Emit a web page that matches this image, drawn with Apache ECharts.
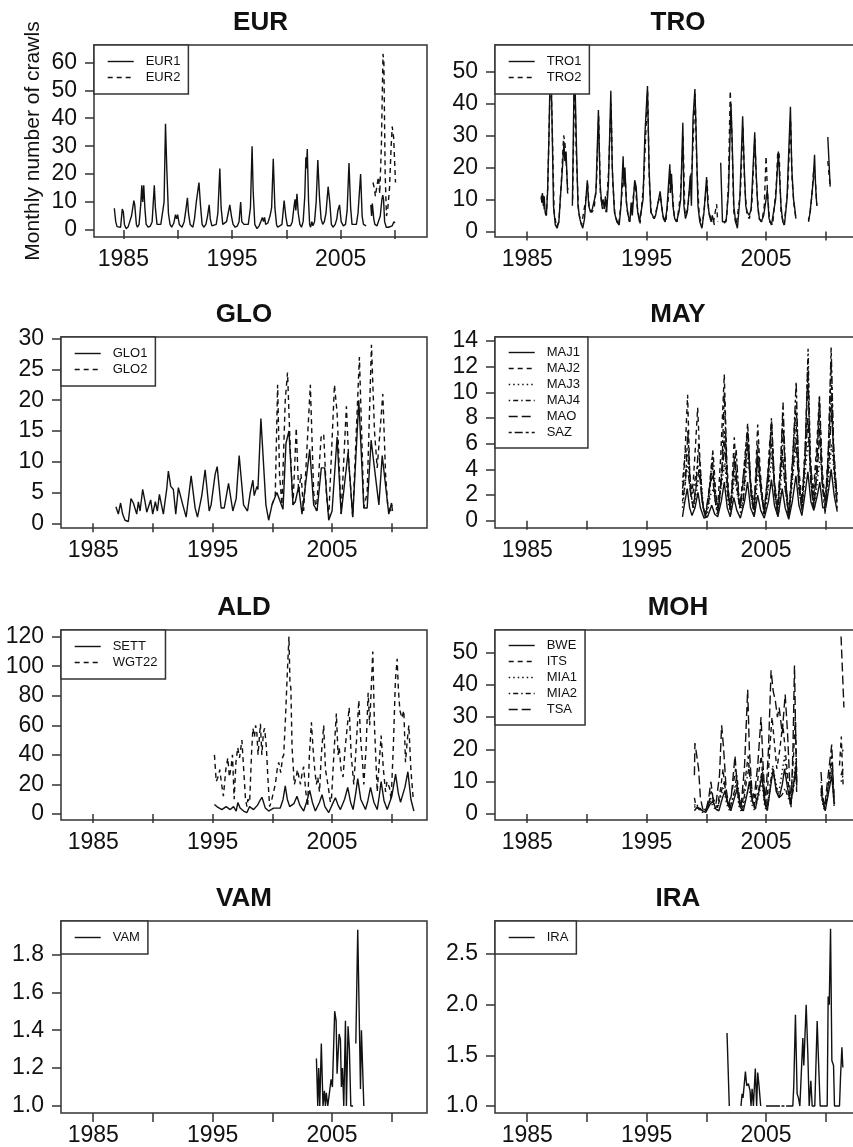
<!DOCTYPE html>
<html>
<head>
<meta charset="utf-8">
<script src="https://cdn.jsdelivr.net/npm/echarts@6/dist/echarts.min.js"></script>
<style>
html,body{margin:0;padding:0;background:#ffffff;}
#chart{width:853px;height:1147px;}
</style>
</head>
<body>
<div id="chart"></div>
<script>
// ---------------- DATA (decimal year, monthly number of crawls) ----------------
const xTickYears = [1985, 1990, 1995, 2000, 2005, 2010];
const xLabelYears = [1985, 1995, 2005];

const EUR_yTicks = [0, 10, 20, 30, 40, 50, 60];
const TRO_yTicks = [0, 10, 20, 30, 40, 50];
const GLO_yTicks = [0, 5, 10, 15, 20, 25, 30];
const MAY_yTicks = [0, 2, 4, 6, 8, 10, 12, 14];
const ALD_yTicks = [0, 20, 40, 60, 80, 100, 120];
const MOH_yTicks = [0, 10, 20, 30, 40, 50];
const VAM_yTicks = [1.0, 1.2, 1.4, 1.6, 1.8];
const IRA_yTicks = [1.0, 1.5, 2.0, 2.5];

const EUR1 = [[1984.17,7.8],[1984.3,3],[1984.42,1.2],[1984.6,1.5],[1984.75,1],[1984.9,7.5],[1985.0,6.5],[1985.1,2],[1985.25,0.5],[1985.45,1.2],[1985.6,1.5],[1985.75,5],[1985.97,10.5],[1986.05,9],[1986.2,2],[1986.3,1],[1986.45,2],[1986.6,9],[1986.7,16],[1986.78,10],[1986.88,16],[1986.98,8],[1987.1,2],[1987.3,1],[1987.5,1.5],[1987.65,3],[1987.85,16],[1987.95,8],[1988.1,2],[1988.25,1.5],[1988.45,2],[1988.6,2.5],[1988.75,10],[1988.88,38],[1989.0,22],[1989.15,6],[1989.3,2],[1989.45,1],[1989.65,2.5],[1989.8,5.5],[1989.9,4],[1990.0,5.5],[1990.15,2],[1990.4,1],[1990.6,3],[1990.75,7],[1990.9,11.5],[1991.0,6],[1991.15,2],[1991.4,1],[1991.55,4],[1991.7,9.5],[1991.8,10],[1991.96,17],[1992.1,9],[1992.25,2],[1992.4,1],[1992.6,2],[1992.75,5],[1992.9,9],[1993.0,4],[1993.15,1.5],[1993.3,1],[1993.55,2],[1993.7,6],[1993.88,22],[1994.0,8],[1994.15,2],[1994.3,1.5],[1994.5,3],[1994.65,6],[1994.8,9],[1994.95,5],[1995.1,2],[1995.3,1],[1995.5,1.5],[1995.65,3],[1995.8,10],[1995.9,3],[1996.1,2],[1996.25,1.5],[1996.5,2],[1996.7,8],[1996.85,30],[1996.95,14],[1997.1,2],[1997.3,0.5],[1997.5,1.5],[1997.65,3],[1997.8,4.5],[1997.9,3],[1998.0,4.5],[1998.1,2],[1998.3,2.5],[1998.5,5],[1998.65,8],[1998.8,25.5],[1998.95,8],[1999.1,2],[1999.2,1],[1999.4,1.5],[1999.6,2],[1999.8,10.5],[1999.95,5],[2000.1,1.5],[2000.2,1],[2000.4,1.5],[2000.55,3],[2000.7,8],[2000.8,11],[2000.88,7],[2000.98,13],[2001.1,6],[2001.25,2],[2001.4,1],[2001.55,3],[2001.7,12],[2001.8,26],[2001.86,22],[2001.93,29],[2002.05,10],[2002.15,2],[2002.24,1],[2002.35,3],[2002.45,1.5],[2002.6,3],[2002.75,10],[2002.9,25],[2003.05,12],[2003.2,4],[2003.35,2],[2003.5,3],[2003.65,6],[2003.85,15.5],[2004.0,10],[2004.15,2],[2004.3,1],[2004.5,2],[2004.65,4],[2004.75,7],[2004.9,9],[2005.05,3],[2005.25,1.5],[2005.45,2],[2005.6,7],[2005.77,24],[2005.92,8],[2006.05,2],[2006.2,1.5],[2006.45,2],[2006.6,6],[2006.84,20],[2006.98,5],[2007.1,2],[2007.24,1.5],[2007.35,1.5],[2007.4,null],[2007.78,9],[2007.85,5],[2007.92,9.5],[2008.05,4],[2008.15,2],[2008.35,1.5],[2008.5,2],[2008.65,5],[2008.8,11],[2008.88,12.5],[2008.95,11],[2009.05,3],[2009.2,1],[2009.4,1],[2009.55,0.8],[2009.75,1.5],[2009.9,3],[2010.0,2.5]];
const EUR2 = [[2007.98,17],[2008.1,15],[2008.2,12],[2008.35,16],[2008.48,19],[2008.6,13],[2008.75,30],[2008.9,63],[2008.98,60],[2009.1,20],[2009.22,5],[2009.35,8],[2009.5,15],[2009.65,30],[2009.75,37],[2009.88,33],[2010.05,17]];

const TRO1 = [[1986.17,11],[1986.22,9],[1986.27,12],[1986.35,8],[1986.42,11],[1986.5,6],[1986.6,5],[1986.7,12],[1986.82,30],[1986.95,56],[1987.05,40],[1987.2,8],[1987.35,2],[1987.5,1],[1987.65,3],[1987.8,12],[1987.95,20],[1988.08,28],[1988.15,22],[1988.25,25],[1988.38,12],[1988.44,12],[1988.5,null],[1988.78,8],[1988.95,55],[1989.1,30],[1989.25,8],[1989.4,4],[1989.55,2],[1989.65,1],[1989.8,4],[1989.95,12],[1990.03,16],[1990.15,8],[1990.3,6],[1990.45,7],[1990.6,6.5],[1990.75,12],[1990.96,38],[1991.1,15],[1991.25,8],[1991.35,10],[1991.45,7],[1991.55,11],[1991.65,6],[1991.8,15],[1992.0,44],[1992.12,20],[1992.3,6],[1992.5,3],[1992.7,2],[1992.85,8],[1993.03,23.5],[1993.1,14],[1993.18,20],[1993.3,9],[1993.45,5],[1993.6,3],[1993.7,9],[1993.8,5],[1994.0,16],[1994.12,14],[1994.25,6],[1994.4,3],[1994.5,2.5],[1994.7,10],[1994.85,30],[1995.07,45.5],[1995.2,20],[1995.35,6],[1995.5,5],[1995.6,4],[1995.75,5],[1995.9,8],[1996.13,12.5],[1996.25,8],[1996.4,4],[1996.55,3],[1996.7,7],[1996.94,21],[1997.0,12],[1997.08,18],[1997.2,8],[1997.35,4],[1997.5,3],[1997.7,6],[1997.85,10],[1998.03,34],[1998.12,8],[1998.25,4],[1998.4,6],[1998.55,12],[1998.65,17.5],[1998.75,8],[1998.88,35],[1999.04,44.5],[1999.15,30],[1999.3,8],[1999.45,3],[1999.63,1],[1999.8,6],[2000.02,17],[2000.12,9],[2000.25,5],[2000.4,3],[2000.5,5],[2000.67,2],[2000.7,null],[2001.2,21.5],[2001.35,3],[2001.5,2.5],[2001.65,3],[2001.85,12],[2002.06,40],[2002.15,30],[2002.3,8],[2002.45,3],[2002.6,1],[2002.8,10],[2003.04,36],[2003.15,22],[2003.3,8],[2003.42,6],[2003.6,5],[2003.75,7],[2004.05,31],[2004.15,20],[2004.3,8],[2004.44,4],[2004.6,3],[2004.8,5],[2005.0,10],[2005.1,13],[2005.25,4],[2005.45,2],[2005.6,2],[2005.8,10],[2006.03,25],[2006.12,25],[2006.25,8],[2006.4,3],[2006.54,2],[2006.75,10],[2007.04,39],[2007.15,20],[2007.3,10],[2007.38,8],[2007.5,4],[2007.55,null],[2008.55,3.5],[2008.65,5],[2008.8,10],[2008.95,16],[2009.06,24],[2009.15,14],[2009.25,8],[2009.3,null],[2010.17,29.5],[2010.37,14]];
const TRO2 = [[1986.17,10],[1986.3,12],[1986.45,6],[1986.6,5],[1986.72,14],[1986.85,35],[1986.96,52],[1987.08,35],[1987.25,6],[1987.45,1.5],[1987.65,3],[1987.85,15],[1988.05,30],[1988.15,28],[1988.28,20],[1988.4,13],[1988.45,null],[1988.8,10],[1988.97,50],[1989.1,25],[1989.3,6],[1989.55,2],[1989.7,1.5],[1989.9,10],[1990.05,15],[1990.2,7],[1990.4,6],[1990.6,7],[1990.8,15],[1990.98,36],[1991.12,12],[1991.3,7],[1991.45,9],[1991.6,6],[1991.8,18],[1992.02,40],[1992.15,16],[1992.35,5],[1992.65,2],[1992.9,10],[1993.05,20],[1993.2,17],[1993.35,7],[1993.55,3],[1993.75,7],[1994.02,15],[1994.2,8],[1994.45,2.5],[1994.75,15],[1995.08,44],[1995.22,16],[1995.4,5],[1995.65,4],[1995.95,9],[1996.15,11],[1996.35,5],[1996.6,3],[1996.8,10],[1996.97,19],[1997.1,15],[1997.3,5],[1997.55,3],[1997.85,12],[1998.05,30],[1998.2,5],[1998.45,7],[1998.65,16],[1998.8,20],[1999.06,43],[1999.2,20],[1999.4,5],[1999.65,1.5],[1999.85,8],[2000.05,16],[2000.2,6],[2000.4,4],[2000.6,3],[2000.86,8.5],[2000.95,3],[2001.0,null],[2001.5,2.5],[2001.7,4],[2001.85,15],[2002.0,44],[2002.12,32],[2002.3,6],[2002.5,2],[2002.65,1.5],[2002.85,12],[2003.06,33],[2003.2,15],[2003.4,5],[2003.6,4],[2003.8,8],[2004.06,29],[2004.2,15],[2004.4,4],[2004.65,3],[2004.85,8],[2005.0,23.5],[2005.12,12],[2005.3,3],[2005.55,2],[2005.85,14],[2005.98,25],[2006.1,24],[2006.25,6],[2006.5,2],[2006.8,12],[2007.05,35],[2007.18,16],[2007.35,8],[2007.5,4],[2007.55,null],[2008.55,3],[2008.7,6],[2008.85,12],[2009.0,20],[2009.1,18],[2009.25,8],[2009.3,null],[2010.17,22],[2010.37,14]];

const GLO1 = [[1986.9,2.7],[1987.1,1.5],[1987.29,3.3],[1987.46,1.5],[1987.66,0.5],[1987.94,0.3],[1988.16,4],[1988.36,3.3],[1988.64,1.5],[1988.78,3.5],[1988.92,2],[1989.14,5.5],[1989.34,3.5],[1989.48,1.8],[1989.81,3.8],[1989.98,1.5],[1990.2,3.5],[1990.37,2],[1990.54,4.7],[1990.87,1.5],[1991.15,5.5],[1991.29,8.5],[1991.49,6],[1991.71,5.5],[1991.91,1.5],[1992.13,5.8],[1992.5,3],[1992.78,1],[1993.2,7.7],[1993.53,2.5],[1993.73,1],[1994.09,4.5],[1994.37,8.7],[1994.71,2],[1994.87,3],[1995.21,8],[1995.38,9.2],[1995.71,2.5],[1995.97,2.5],[1996.33,6.5],[1996.69,2],[1996.97,4],[1997.22,11],[1997.59,3],[1997.92,2],[1998.15,5],[1998.37,7],[1998.48,4.5],[1998.71,6],[1998.79,5.5],[1999.04,17],[1999.46,3],[1999.69,0.5],[1999.97,3],[2000.38,5],[2000.89,2.3],[2001.14,13],[2001.39,15],[2001.73,3],[2001.92,3.5],[2002.2,6],[2002.48,1.5],[2003.13,12],[2003.46,3],[2003.74,2],[2004.1,9],[2004.38,9],[2004.72,0.5],[2005.0,2],[2005.42,14],[2005.76,1.5],[2006.34,11.5],[2006.73,1],[2007.24,20],[2007.66,2.5],[2007.94,2.5],[2008.27,13.5],[2008.92,3],[2009.2,11],[2009.75,1.5],[2009.98,3.3],[2010.06,2]];
const GLO2 = [[1999.97,3],[2000.24,4.5],[2000.44,22.5],[2000.6,8],[2000.8,3],[2001.08,20],[2001.27,24.5],[2001.5,12],[2001.73,3],[2002.0,15.5],[2002.2,5],[2002.4,8],[2002.62,2],[2003.18,22.5],[2003.46,5],[2003.69,2],[2004.08,14],[2004.3,14.5],[2004.52,5],[2004.72,1],[2005.2,22.5],[2005.42,18],[2005.76,1.5],[2006.2,19],[2006.4,10],[2006.73,1],[2007.29,27],[2007.66,2.5],[2007.94,5],[2008.3,29],[2008.55,15],[2008.78,9],[2009.25,21],[2009.48,8],[2009.66,3],[2009.9,2],[2010.06,3]];

const MAJ1 = [[1998.0,0.3],[1998.2,1.5],[1998.4,2.5],[1998.6,1.0],[1998.8,0.4],[1999.05,1],[1999.3,2.2],[1999.5,1],[1999.8,0.2],[2000.1,0.3],[2000.45,1.2],[2000.7,0.5],[2000.95,0.3],[2001.25,1.5],[2001.5,3],[2001.75,1],[2002.0,0.3],[2002.3,1.8],[2002.55,0.8],[2002.85,0.2],[2003.2,1.5],[2003.45,3],[2003.7,1],[2004.0,0.3],[2004.3,2],[2004.55,0.8],[2004.85,0.2],[2005.2,1.5],[2005.45,3.2],[2005.7,1.2],[2006.0,0.3],[2006.35,2.5],[2006.6,1],[2006.9,0.1],[2007.2,1.5],[2007.5,3.5],[2007.75,1.2],[2008.0,0.4],[2008.25,2],[2008.5,3.8],[2008.75,1.5],[2009.0,0.8],[2009.3,2],[2009.5,3],[2009.75,1],[2010.0,1],[2010.25,2.5],[2010.45,4],[2010.7,2],[2010.96,0.7]];
const MAJ2 = [[1998.0,2],[1998.2,5],[1998.43,9.8],[1998.6,4],[1998.75,2],[1998.9,3],[1999.1,6],[1999.27,8.8],[1999.45,5],[1999.65,1.5],[1999.85,0.5],[2000.1,1],[2000.3,3],[2000.5,5],[2000.7,2.5],[2000.95,1],[2001.2,5],[2001.5,11.4],[2001.7,5],[2001.9,1.5],[2002.1,2],[2002.34,6.5],[2002.55,3],[2002.8,1],[2003.1,3.5],[2003.46,7.6],[2003.7,3],[2003.95,1],[2004.1,3],[2004.3,7.5],[2004.5,4],[2004.8,0.5],[2005.1,3],[2005.3,6],[2005.47,7.5],[2005.7,3],[2005.95,1],[2006.2,4],[2006.4,8.0],[2006.6,4],[2006.85,0.3],[2007.1,3],[2007.35,7],[2007.52,9],[2007.75,4],[2008.0,1.5],[2008.25,5],[2008.5,11],[2008.7,5],[2008.95,2],[2009.25,6],[2009.47,9.7],[2009.7,4],[2009.95,1.5],[2010.2,5],[2010.45,12],[2010.65,5],[2010.85,2],[2010.96,1.5]];
const MAJ3 = [[1998.0,1],[1998.3,3.5],[1998.5,4.5],[1998.7,2],[1998.95,1],[1999.3,3],[1999.5,4],[1999.75,1],[2000.0,0.2],[2000.35,2],[2000.6,2.5],[2000.9,0.5],[2001.3,3],[2001.55,4.5],[2001.8,1.5],[2002.05,0.5],[2002.35,3.5],[2002.6,2],[2002.9,0.5],[2003.25,3],[2003.5,5],[2003.8,1.5],[2004.05,0.5],[2004.35,4],[2004.6,2],[2004.9,0.5],[2005.25,3],[2005.5,5],[2005.8,1.5],[2006.05,0.5],[2006.4,5],[2006.65,2],[2006.95,0.5],[2007.3,4],[2007.55,6],[2007.8,2],[2008.05,1],[2008.3,4],[2008.55,6.5],[2008.8,2.5],[2009.05,1],[2009.35,3.5],[2009.55,5],[2009.8,2],[2010.05,1.5],[2010.3,4],[2010.5,6],[2010.75,3],[2010.96,1.5]];
const MAJ4 = [[1998.0,3],[1998.25,5.5],[1998.45,5],[1998.65,3],[1998.85,2],[1999.1,3.5],[1999.3,4.3],[1999.5,3],[1999.75,1],[2000.0,0.5],[2000.3,3],[2000.55,5.5],[2000.8,2],[2001.0,1],[2001.3,4],[2001.52,7],[2001.75,3],[2002.0,1],[2002.3,4],[2002.5,3],[2002.8,1],[2003.15,4],[2003.45,7.0],[2003.7,3],[2004.0,1],[2004.3,5],[2004.55,3],[2004.85,0.8],[2005.2,4],[2005.45,7.8],[2005.7,3],[2006.0,1],[2006.3,5],[2006.45,7],[2006.7,2.5],[2006.95,0.5],[2007.25,5],[2007.5,8],[2007.75,3],[2008.0,1],[2008.3,6],[2008.52,13.4],[2008.7,5],[2008.95,1.5],[2009.25,5],[2009.45,8],[2009.7,3],[2009.95,1],[2010.2,5],[2010.45,10],[2010.7,4],[2010.96,2]];
const MAO = [[1998.0,2.5],[1998.3,4],[1998.5,3.5],[1998.7,2],[1998.9,1],[1999.2,3],[1999.4,4],[1999.65,1.5],[1999.9,0.3],[2000.25,2.5],[2000.5,3.5],[2000.75,1.5],[2001.0,0.8],[2001.35,4],[2001.55,6],[2001.8,2],[2002.05,0.8],[2002.35,5],[2002.55,3],[2002.85,1],[2003.2,4],[2003.45,6],[2003.75,2],[2004.0,0.8],[2004.3,5],[2004.55,2.5],[2004.85,0.7],[2005.2,4],[2005.45,6],[2005.75,2],[2006.0,0.8],[2006.35,5.5],[2006.6,2.5],[2006.9,0.5],[2007.25,4],[2007.5,6.5],[2007.75,2.5],[2008.0,1],[2008.3,5],[2008.5,8],[2008.75,3],[2009.0,1],[2009.3,4],[2009.5,7],[2009.75,2.5],[2010.0,1.5],[2010.3,5],[2010.5,9],[2010.75,3.5],[2010.96,2]];
const SAZ = [[1998.0,1.5],[1998.25,3],[1998.45,7],[1998.65,2.5],[1998.9,1],[1999.15,3],[1999.35,6],[1999.6,2],[1999.85,0.5],[2000.2,1.5],[2000.5,4.5],[2000.75,1.5],[2001.0,0.5],[2001.3,4],[2001.5,10],[2001.75,3],[2002.0,0.8],[2002.3,4],[2002.5,5.5],[2002.75,1.5],[2003.05,1],[2003.35,5],[2003.5,6.8],[2003.75,2],[2004.0,0.5],[2004.3,6],[2004.55,2.5],[2004.85,0.5],[2005.2,3],[2005.45,8.0],[2005.7,2.5],[2005.95,0.5],[2006.25,5],[2006.42,9.2],[2006.65,3],[2006.9,0.2],[2007.25,5],[2007.52,10.8],[2007.75,3],[2008.0,0.8],[2008.3,6],[2008.5,12.5],[2008.7,4],[2008.95,1],[2009.25,4],[2009.47,9.7],[2009.7,3],[2009.95,0.5],[2010.2,5],[2010.45,13.5],[2010.65,6],[2010.85,3],[2010.96,0.7]];

const SETT = [[1995.15,6.5],[1995.35,5],[1995.77,3],[1996.13,5],[1996.47,3],[1996.75,5],[1996.97,2],[1997.11,7.7],[1997.3,4],[1997.59,2],[1997.87,1],[1998.09,5],[1998.43,3],[1998.76,6],[1998.95,9],[1999.13,11.3],[1999.41,4],[1999.69,2],[2000.1,4],[2000.66,4],[2000.9,10],[2001.08,19],[2001.25,10],[2001.45,5],[2001.8,7],[2002.06,12],[2002.3,6],[2002.62,2],[2002.9,9],[2003.13,16],[2003.35,8],[2003.6,2],[2003.95,8],[2004.16,13],[2004.4,5],[2004.72,1],[2005.05,7],[2005.28,11],[2005.5,6],[2005.7,3],[2006.05,10],[2006.31,18],[2006.55,8],[2006.76,3],[2006.98,14],[2007.15,24],[2007.4,10],[2007.8,3],[2008.0,9],[2008.22,18],[2008.5,8],[2008.78,3],[2008.95,12],[2009.11,22],[2009.35,9],[2009.62,3],[2010.0,12],[2010.32,27],[2010.55,14],[2010.73,8],[2011.1,18],[2011.35,28.6],[2011.6,10],[2011.85,2]];
const WGT22 = [[1995.15,40],[1995.3,22],[1995.45,25],[1995.6,30],[1995.75,20],[1995.9,12],[1996.1,30],[1996.27,38],[1996.4,25],[1996.55,32],[1996.66,40],[1996.8,10],[1996.95,35],[1997.1,45],[1997.25,38],[1997.45,50],[1997.6,30],[1997.75,10],[1997.87,5],[1997.95,10],[1998.1,8],[1998.25,40],[1998.37,58],[1998.5,52],[1998.6,60],[1998.7,55],[1998.8,40],[1999.0,61],[1999.12,40],[1999.25,55],[1999.35,58],[1999.5,45],[1999.62,25],[1999.77,5],[1999.9,8],[2000.1,15],[2000.25,20],[2000.4,30],[2000.53,35],[2000.7,28],[2000.85,38],[2000.95,40],[2001.1,65],[2001.25,95],[2001.39,120],[2001.47,90],[2001.55,85],[2001.65,45],[2001.84,20],[2002.0,25],[2002.1,30],[2002.2,30],[2002.35,20],[2002.5,28],[2002.62,32],[2002.8,15],[2002.96,5],[2003.1,40],[2003.27,62],[2003.4,45],[2003.55,30],[2003.69,20],[2003.8,25],[2003.95,15],[2004.1,40],[2004.3,60],[2004.45,30],[2004.65,20],[2004.86,8],[2004.95,10],[2005.15,40],[2005.36,68],[2005.5,40],[2005.6,45],[2005.75,30],[2005.92,25],[2006.1,45],[2006.26,58],[2006.43,72],[2006.6,40],[2006.82,20],[2007.05,50],[2007.24,77],[2007.4,50],[2007.55,35],[2007.66,20],[2007.85,45],[2008.02,82],[2008.15,60],[2008.41,110],[2008.55,60],[2008.78,15],[2008.95,35],[2009.11,53],[2009.3,30],[2009.48,15],[2009.6,22],[2009.8,18],[2009.95,10],[2010.15,50],[2010.3,90],[2010.45,105],[2010.55,85],[2010.68,70],[2010.85,65],[2011.01,70],[2011.15,35],[2011.3,50],[2011.43,60],[2011.6,30],[2011.8,10]];

const BWE = [[1999.0,1],[1999.2,2],[1999.45,1.5],[1999.7,1],[1999.95,0.5],[2000.3,3],[2000.55,4],[2000.8,1.5],[2001.05,1],[2001.35,5],[2001.55,7],[2001.8,3],[2002.05,1],[2002.35,5],[2002.6,8],[2002.85,2],[2003.1,1],[2003.4,6],[2003.6,10],[2003.85,4],[2004.1,1.5],[2004.4,7],[2004.65,12],[2004.9,3],[2005.1,1],[2005.4,9],[2005.6,14],[2005.85,7],[2006.1,5],[2006.35,9],[2006.55,14],[2006.8,8],[2007.05,3],[2007.3,9],[2007.5,15],[2007.57,9],[2007.6,null],[2009.6,7],[2009.8,3],[2009.95,1],[2010.3,8],[2010.5,12],[2010.7,3],[2010.8,null],[2011.28,12],[2011.45,14]];
const ITS = [[1999.0,5],[1999.1,3],[1999.3,2],[1999.6,1.5],[1999.9,1],[2000.2,3],[2000.4,7],[2000.6,4],[2000.9,2],[2001.2,8],[2001.4,14],[2001.6,6],[2001.9,2],[2002.2,8],[2002.45,14],[2002.7,4],[2002.95,1],[2003.3,12],[2003.5,18],[2003.75,6],[2004.0,2],[2004.35,12],[2004.6,18],[2004.85,5],[2005.05,2],[2005.3,20],[2005.5,30],[2005.7,22],[2005.9,14],[2006.15,20],[2006.4,28],[2006.6,20],[2006.85,10],[2007.05,4],[2007.3,18],[2007.45,30],[2007.57,12],[2007.6,null],[2009.6,8],[2009.8,3],[2009.95,1.5],[2010.25,10],[2010.5,18],[2010.7,5],[2010.8,null],[2011.15,15],[2011.3,24],[2011.45,9]];
const MIA1 = [[1999.0,2],[1999.2,3],[1999.45,1],[1999.7,0.5],[2000.0,1.5],[2000.35,4],[2000.6,2],[2000.9,1],[2001.25,6],[2001.45,8],[2001.7,3],[2001.95,1],[2002.3,6],[2002.5,9],[2002.75,2],[2003.0,0.5],[2003.3,5],[2003.55,8],[2003.8,3],[2004.05,1],[2004.4,6],[2004.65,10],[2004.9,2],[2005.1,1],[2005.35,8],[2005.55,15],[2005.8,10],[2006.05,6],[2006.3,12],[2006.55,18],[2006.8,9],[2007.05,3],[2007.3,10],[2007.5,17],[2007.57,8],[2007.6,null],[2009.6,6],[2009.8,2],[2009.95,1],[2010.3,9],[2010.5,16],[2010.7,2],[2010.8,null],[2011.28,10],[2011.45,12]];
const MIA2 = [[1999.0,3],[1999.2,2],[1999.45,1.5],[1999.75,1],[2000.05,2],[2000.4,5],[2000.65,3],[2000.95,2],[2001.25,7],[2001.5,10],[2001.75,4],[2002.0,2],[2002.35,7],[2002.55,12],[2002.8,4],[2003.05,2],[2003.35,10],[2003.6,15],[2003.85,5],[2004.1,3],[2004.4,8],[2004.7,14],[2004.9,4],[2005.1,2],[2005.35,10],[2005.6,13],[2005.85,8],[2006.1,5],[2006.35,6],[2006.6,8],[2006.85,5],[2007.05,3],[2007.3,8],[2007.5,13],[2007.57,6],[2007.6,null],[2009.6,10],[2009.8,4],[2009.95,2],[2010.3,11],[2010.5,14],[2010.7,4],[2010.8,null],[2011.28,18],[2011.45,20]];
const TSA = [[1999.0,12],[1999.04,22],[1999.2,18],[1999.35,14],[1999.5,5],[1999.7,1.5],[1999.96,1],[2000.2,5],[2000.38,10],[2000.55,5],[2000.8,3],[2001.1,12],[2001.28,27.5],[2001.45,20],[2001.65,8],[2001.85,3],[2002.1,6],[2002.4,18],[2002.6,8],[2002.9,2],[2003.2,15],[2003.46,38.5],[2003.6,20],[2003.8,8],[2004.0,5],[2004.3,15],[2004.58,30],[2004.75,15],[2004.95,3],[2005.2,20],[2005.42,44.5],[2005.6,38],[2005.78,35],[2005.95,30],[2006.1,33],[2006.35,25],[2006.6,37],[2006.8,25],[2007.0,8],[2007.1,2],[2007.25,20],[2007.38,46],[2007.5,20],[2007.57,10],[2007.6,null],[2009.6,13],[2009.75,5],[2009.9,2],[2010.2,12],[2010.5,21.5],[2010.65,8],[2010.73,3],[2010.8,null],[2011.28,55],[2011.52,33]];

const VAM = [[2003.69,1.25],[2003.8,1.0],[2003.88,1.2],[2003.97,1.0],[2004.1,1.33],[2004.24,1.0],[2004.36,1.08],[2004.44,1.0],[2004.52,1.07],[2004.64,1.0],[2004.8,1.0],[2004.92,1.14],[2005.03,1.1],[2005.22,1.5],[2005.34,1.45],[2005.42,1.17],[2005.59,1.38],[2005.7,1.35],[2005.78,1.1],[2005.87,1.2],[2005.98,1.0],[2006.12,1.45],[2006.2,1.0],[2006.34,1.42],[2006.45,1.3],[2006.57,1.0],[2006.76,1.0],[2006.85,null],[2006.99,1.33],[2007.04,1.33],[2007.15,1.93],[2007.38,1.09],[2007.46,1.4],[2007.66,1.0]];
const IRA = [[2001.73,1.72],[2001.92,1.0],[2002.0,null],[2002.9,1.0],[2002.99,1.12],[2003.07,1.08],[2003.27,1.34],[2003.38,1.2],[2003.52,1.22],[2003.66,1.15],[2003.74,1.0],[2003.83,1.17],[2003.94,1.0],[2004.02,1.0],[2004.1,1.37],[2004.21,1.0],[2004.3,1.33],[2004.41,1.2],[2004.55,1.0],[2004.7,null],[2005.0,1.0],[2006.17,1.0],[2006.22,null],[2006.29,1.0],[2006.54,1.0],[2006.6,null],[2006.68,1.0],[2007.24,1.0],[2007.32,1.2],[2007.46,1.9],[2007.6,1.12],[2007.71,1.08],[2007.83,1.0],[2007.97,1.0],[2008.08,1.67],[2008.16,1.4],[2008.36,2.0],[2008.5,1.5],[2008.61,1.0],[2008.75,1.25],[2008.86,1.0],[2009.08,1.0],[2009.28,1.84],[2009.39,1.45],[2009.53,1.0],[2010.12,1.0],[2010.2,2.08],[2010.29,2.0],[2010.4,2.75],[2010.51,1.45],[2010.65,1.4],[2010.73,1.0],[2011.15,1.0],[2011.24,1.3],[2011.35,1.58],[2011.43,1.38]];

// ---------------- STYLE / LAYOUT ----------------
const FONT = "'Liberation Sans', Arial, Helvetica, sans-serif";
const INK = '#111';
const BOX = '#333';
const DASH = {
  solid: 'solid',
  dashed: [5, 4],
  dotted: [1.5, 3],
  dotdash: [1.5, 3, 5, 3],
  longdash: [9, 4],
  twodash: [3, 3, 8, 3]
};
const X_MIN = 1982.3, X_MAX = 2012.95;

const panels = [
  { title: 'EUR', left: 94,  top: 45,  width: 333, height: 192, ymin: -2.5,  ymax: 66.2,  ticks: EUR_yTicks, dec: 0, ylab: 'Monthly number of crawls',
    series: [['EUR1', EUR1, 'solid'], ['EUR2', EUR2, 'dashed']] },
  { title: 'TRO', left: 495, top: 45,  width: 366, height: 192, ymin: -1.75, ymax: 58.3,  ticks: TRO_yTicks, dec: 0,
    series: [['TRO1', TRO1, 'solid'], ['TRO2', TRO2, 'dashed']] },
  { title: 'GLO', left: 61,  top: 337, width: 366, height: 191, ymin: -0.76, ymax: 30.26, ticks: GLO_yTicks, dec: 0,
    series: [['GLO1', GLO1, 'solid'], ['GLO2', GLO2, 'dashed']] },
  { title: 'MAY', left: 495, top: 337, width: 366, height: 191, ymin: -0.57, ymax: 14.31, ticks: MAY_yTicks, dec: 0,
    series: [['MAJ1', MAJ1, 'solid'], ['MAJ2', MAJ2, 'dashed'], ['MAJ3', MAJ3, 'dotted'], ['MAJ4', MAJ4, 'dotdash'], ['MAO', MAO, 'longdash'], ['SAZ', SAZ, 'twodash']] },
  { title: 'ALD', left: 61,  top: 630, width: 366, height: 190, ymin: -4.06, ymax: 124.5, ticks: ALD_yTicks, dec: 0,
    series: [['SETT', SETT, 'solid'], ['WGT22', WGT22, 'dashed']] },
  { title: 'MOH', left: 495, top: 630, width: 366, height: 190, ymin: -1.86, ymax: 57.0,  ticks: MOH_yTicks, dec: 0,
    series: [['BWE', BWE, 'solid'], ['ITS', ITS, 'dashed'], ['MIA1', MIA1, 'dotted'], ['MIA2', MIA2, 'dotdash'], ['TSA', TSA, 'longdash']] },
  { title: 'VAM', left: 61,  top: 921, width: 366, height: 192, ymin: 0.963, ymax: 1.976, ticks: VAM_yTicks, dec: 1,
    series: [['VAM', VAM, 'solid']] },
  { title: 'IRA', left: 495, top: 921, width: 366, height: 192, ymin: 0.931, ymax: 2.826, ticks: IRA_yTicks, dec: 1,
    series: [['IRA', IRA, 'solid']] }
];

const option = {
  backgroundColor: '#ffffff',
  animation: false,
  title: [], grid: [], xAxis: [], yAxis: [], legend: [], series: []
};

panels.forEach((p, i) => {
  option.title.push({
    text: p.title,
    left: p.left + p.width / 2,
    top: p.top - 35,
    textAlign: 'center',
    padding: 0,
    textStyle: { fontFamily: FONT, fontSize: 26, fontWeight: 'bold', color: INK }
  });
  option.grid.push({
    left: p.left, top: p.top, width: p.width, height: p.height,
    show: true, borderColor: BOX, borderWidth: 1.5, backgroundColor: 'transparent',
    containLabel: false, outerBoundsMode: 'none'
  });
  option.xAxis.push({
    type: 'value', gridIndex: i, min: X_MIN, max: X_MAX,
    axisLine: { show: false }, splitLine: { show: false },
    axisTick: { show: true, inside: false, length: 9, customValues: xTickYears, lineStyle: { color: BOX, width: 1.5 } },
    axisLabel: { customValues: xLabelYears, margin: 11, fontSize: 23, fontFamily: FONT, color: INK, formatter: v => String(Math.round(v)) }
  });
  const yAx = {
    type: 'value', gridIndex: i, min: p.ymin, max: p.ymax,
    axisLine: { show: false }, splitLine: { show: false },
    axisTick: { show: true, inside: false, length: 9, customValues: p.ticks, lineStyle: { color: BOX, width: 1.5 } },
    axisLabel: { customValues: p.ticks, margin: 17, fontSize: 23, fontFamily: FONT, color: INK,
      formatter: v => p.dec ? Number(v).toFixed(p.dec) : String(Math.round(v)) }
  };
  if (p.ylab) {
    yAx.name = p.ylab;
    yAx.nameLocation = 'middle';
    yAx.nameGap = 50;
    yAx.nameMoveOverlap = false;
    yAx.nameTextStyle = { fontFamily: FONT, fontSize: 21, color: INK };
  }
  option.yAxis.push(yAx);
  option.legend.push({
    show: true,
    left: p.left, top: p.top,
    orient: 'vertical',
    data: p.series.map(s => s[0]),
    itemWidth: 26, itemHeight: 14, itemGap: 3,
    padding: p.series.length > 4 ? [9, 8, 9, 13] : [10, 8, 10, 13],
    borderColor: BOX, borderWidth: 1.5, backgroundColor: '#ffffff',
    selectedMode: false,
    itemStyle: { color: 'rgba(0,0,0,0)', borderColor: 'rgba(0,0,0,0)', borderWidth: 0, opacity: 0 },
    lineStyle: { width: 1.4, color: INK },
    textStyle: { fontFamily: FONT, fontSize: 13, color: INK, padding: [0, 0, 0, 7] },
    z: 10
  });
  p.series.forEach(s => {
    option.series.push({
      type: 'line', name: s[0], xAxisIndex: i, yAxisIndex: i,
      data: s[1], symbol: 'none', showSymbol: false, connectNulls: false,
      clip: true, silent: true,
      lineStyle: { color: INK, width: 1.4, type: DASH[s[2]] },
      itemStyle: { color: INK },
      emphasis: { disabled: true },
      z: 2
    });
  });
});

const chart = echarts.init(document.getElementById('chart'), null, { renderer: 'canvas' });
chart.setOption(option);
</script>
</body>
</html>
